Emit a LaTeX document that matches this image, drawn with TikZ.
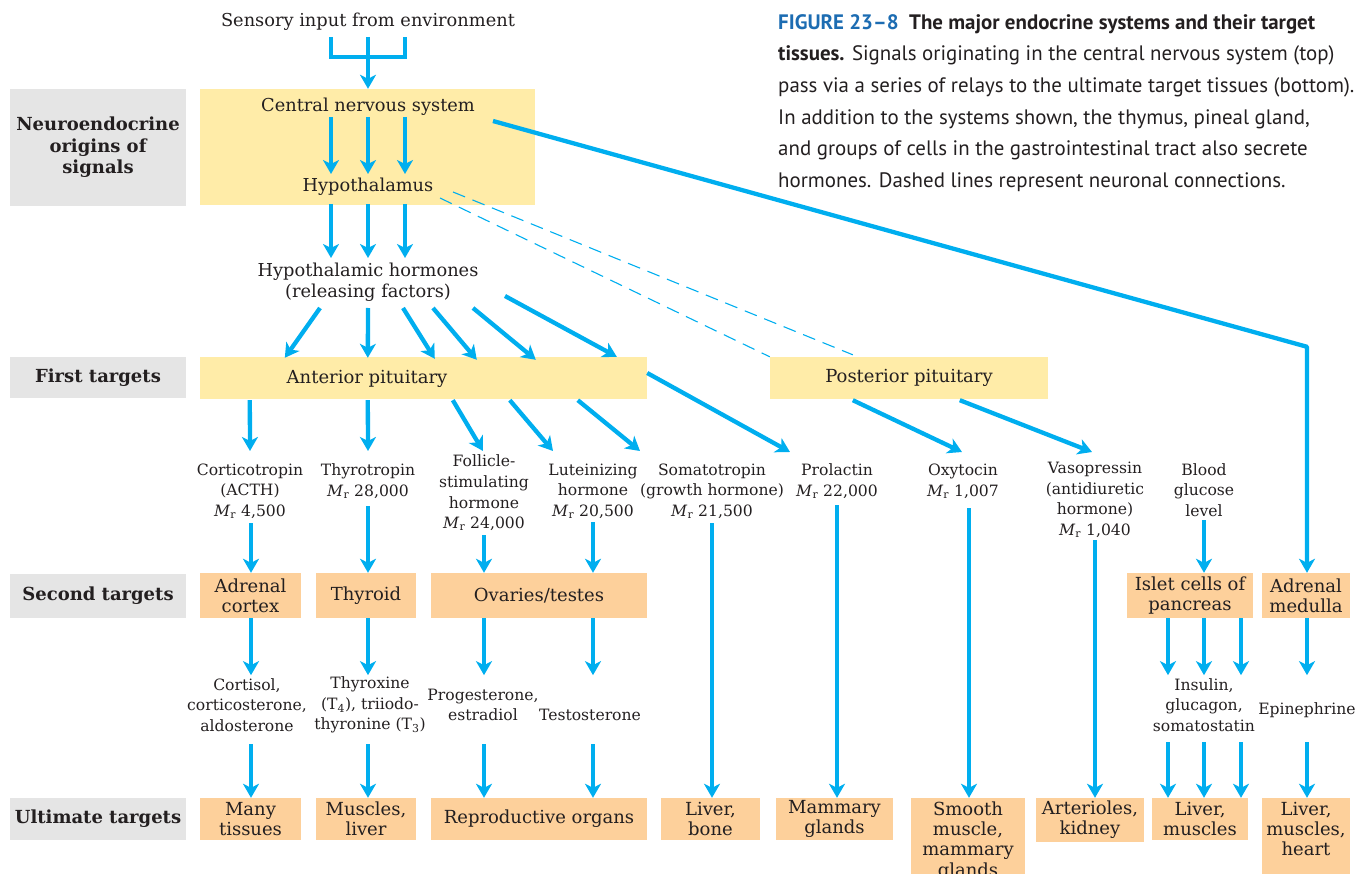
\documentclass[tikz,border=0pt]{standalone}
\usepackage{fontspec}
\setmainfont{DejaVu Serif}
\newfontfamily\capfont{PT Sans}
\usetikzlibrary{arrows.meta,calc}
\definecolor{cy}{RGB}{0,174,239}
\definecolor{yel}{RGB}{255,236,168}
\definecolor{org}{RGB}{253,208,155}
\definecolor{gry}{RGB}{229,229,229}
\definecolor{txt}{RGB}{35,31,32}
\definecolor{figblue}{RGB}{28,108,178}
\newcommand\myTop{\fontsize{17.8}{21.5}\selectfont}
\newcommand\myBox{\fontsize{18}{20.3}\selectfont}
\newcommand\myLab{\fontsize{15.6}{20.6}\selectfont}
\newcommand\myBold{\fontsize{18}{21.5}\selectfont\bfseries}
\newcommand\Mr{\textit{M}\textsubscript{r}}
\begin{document}
\begin{tikzpicture}[x=1pt,y=-1pt,
  arr/.style={draw=cy, line width=4.3pt, -{Stealth[length=14pt,width=16pt,inset=4pt]}},
  ln/.style={draw=cy, line width=4.5pt},
  dsh/.style={draw=cy, line width=1.1pt, dash pattern=on 13pt off 8pt},
  ybox/.style={fill=yel, inner sep=0pt, text=txt, font=\myBox},
  obox/.style={fill=org, inner sep=0pt, text=txt, align=center, font=\myBox},
  boxlab/.style={inner sep=0pt, text=txt, align=center, font=\myBox},
  gbox/.style={fill=gry, inner sep=0pt, text=txt, align=center, font=\myBold, minimum width=176pt},
  toplab/.style={inner sep=0pt, text=txt, align=center, font=\myTop},
  hormlab/.style={inner sep=0pt, text=txt, align=center, font=\myLab},
]
\useasboundingbox (0,0) rectangle (1363,874);

% ---------- row labels
\node[gbox, minimum height=117pt] (g1) at (98,147.5) {Neuroendocrine\\origins of\\signals};
\node[gbox, minimum height=41pt] (g2) at (98,377.5) {First targets};
\node[gbox, minimum height=44pt] (g3) at (98,596) {Second targets};
\node[gbox, minimum height=42pt] (g4) at (98,819) {Ultimate targets};

% ---------- top
\node[toplab] (sens) at (368,22) {Sensory input from environment};
\node[ybox, minimum width=335pt, minimum height=116pt] (cnsbox) at (367.5,147) {};
\node[toplab] (cns) at (368,107) {Central nervous system};
\node[toplab] (hyp) at (368,187) {Hypothalamus};
\node[toplab] (rf) at (368,282) {Hypothalamic hormones\\(releasing factors)};

% ---------- first targets
\node[ybox, minimum width=447pt, minimum height=42pt] (antbox) at (423.5,378) {};
\node[boxlab] (ant) at (367,379) {Anterior pituitary};
\node[ybox, minimum width=278pt, minimum height=42pt] (post) at (909,378) {Posterior pituitary};

% ---------- hormones
\node[hormlab] (cort) at (250,491) {Corticotropin\\(ACTH)\\\Mr{} 4,500};
\node[hormlab] (thyt) at (368,481) {Thyrotropin\\\Mr{} 28,000};
\node[hormlab] (fsh) at (484,493) {Follicle-\\stimulating\\hormone\\\Mr{} 24,000};
\node[hormlab] (lh) at (593,491) {Luteinizing\\hormone\\\Mr{} 20,500};
\node[hormlab] (soma) at (712,491) {Somatotropin\\(growth hormone)\\\Mr{} 21,500};
\node[hormlab] (prl) at (837,481) {Prolactin\\\Mr{} 22,000};
\node[hormlab] (oxy) at (963,481) {Oxytocin\\\Mr{} 1,007};
\node[hormlab] (vaso) at (1095,500) {Vasopressin\\(antidiuretic\\hormone)\\\Mr{} 1,040};
\node[hormlab] (bgl) at (1204,490) {Blood\\glucose\\level};

% ---------- second targets
\node[obox, minimum width=101pt, minimum height=45pt] (adrc) at (250.5,595.5) {Adrenal\\cortex};
\node[obox, minimum width=100pt, minimum height=45pt] (thyr) at (366,595.5) {Thyroid};
\node[obox, minimum width=216pt, minimum height=45pt] (ovt) at (539,595.5) {Ovaries/testes};
\node[obox, minimum width=126pt, minimum height=45pt] (islet) at (1190,595.5) {Islet cells of\\pancreas};
\node[obox, minimum width=88pt, minimum height=45pt] (adrm) at (1306,595.5) {Adrenal\\medulla};

% ---------- secreted hormones
\node[hormlab] (cortisol) at (247,705) {Cortisol,\\corticosterone,\\aldosterone};
\node[hormlab] (thyrox) at (370,705) {Thyroxine\\(T\textsubscript{4}), triiodo-\\thyronine (T\textsubscript{3})};
\node[hormlab] (prog) at (483,705) {Progesterone,\\estradiol};
\node[hormlab] (testo) at (590,715) {Testosterone};
\node[hormlab] (insulin) at (1204,705) {Insulin,\\glucagon,\\somatostatin};
\node[hormlab] (epi) at (1307,710) {Epinephrine};

% ---------- ultimate targets
\node[obox, minimum width=101pt, minimum height=42pt] (many) at (250.5,819) {Many\\tissues};
\node[obox, minimum width=100pt, minimum height=42pt] (musc) at (366,819) {Muscles,\\liver};
\node[obox, minimum width=216pt, minimum height=42pt] (repr) at (539,819) {Reproductive organs};
\node[obox, minimum width=99pt, minimum height=42pt] (livb) at (710.5,819) {Liver,\\bone};
\node[obox, minimum width=117pt, minimum height=42pt] (mamm) at (834.5,819) {Mammary\\glands};
\node[obox, minimum width=114pt, minimum height=86pt] (smooth) at (968,841) {Smooth\\muscle,\\mammary\\glands};
\node[obox, minimum width=108pt, minimum height=44pt] (arter) at (1090,820) {Arterioles,\\kidney};
\node[obox, minimum width=96pt, minimum height=42pt] (livm) at (1200,819) {Liver,\\muscles};
\node[obox, minimum width=88pt, minimum height=80pt] (livmh) at (1306,838) {};
\node[boxlab] (livmht) at (1306,829) {Liver,\\muscles,\\heart};

% ---------- caption
\node[anchor=north west, inner sep=0pt, align=left, text=txt,
      font=\capfont\fontsize{20.9}{31.7}\selectfont] (cap) at (778,14)
 {{\bfseries\color{figblue}FIGURE 23–8}\enspace{\bfseries The major endocrine systems and their target}\\
  {\bfseries tissues.} Signals originating in the central nervous system (top)\\
  pass via a series of relays to the ultimate target tissues (bottom).\\
  In addition to the systems shown, the thymus, pineal gland,\\
  and groups of cells in the gastrointestinal tract also secrete\\
  hormones. Dashed lines represent neuronal connections.};

% ---------- connectors: top
\draw[ln, line join=miter] ($(sens)+(-37,15)$) -- ($(sens)+(-37,35)$) -- ($(sens)+(37,35)$) -- ($(sens)+(37,15)$);
\draw[arr] ($(sens)+(0,15)$) -- (sens.south |- cnsbox.north);
\foreach \dx in {-37,0,37}{
  \draw[arr] ($(cns)+(\dx,10)$) -- ($(hyp)+(\dx,-13)$);
  \draw[arr] ($(hyp)+(\dx,17)$) -- ($(rf)+(\dx,-24)$);
}
% releasing factors -> anterior pituitary
\draw[arr] ($(rf)+(-48,26)$) -- ($(antbox.north west)+(85,1)$);
\draw[arr] ($(rf)+(0,26)$) -- ($(antbox.north west)+(168,1)$);
\draw[arr] ($(rf)+(35,26)$) -- ($(antbox.north west)+(235,2)$);
\draw[arr] ($(rf)+(65,26)$) -- ($(antbox.north west)+(277,3)$);
\draw[arr] ($(rf)+(105,26)$) -- ($(antbox.north west)+(336,3)$);
\draw[arr] ($(rf)+(137,14)$) -- ($(antbox.north west)+(417,0)$);
% neuronal connections
\draw[dsh] ($(hyp)+(72,11)$) -- (post.north west);
\draw[dsh] ($(hyp)+(85,5)$) -- ($(post.north west)+(83,-2)$);
% CNS -> adrenal medulla
\coordinate (corner) at ($(adrm.north)+(1,-226)$);
\draw[arr, line join=round] ($(cns)+(125,14)$) -- (corner) -- (corner |- adrm.north);

% pituitary -> hormones
\draw[arr] ($(antbox.south west)+(50,1)$) -- ($(cort)+(0,-40)$);
\draw[arr] ($(antbox.south west)+(168,1)$) -- ($(thyt)+(0,-30)$);
\draw[arr] ($(antbox.south west)+(253,1)$) -- ($(fsh)+(-1,-42)$);
\draw[arr] ($(antbox.south west)+(310,1)$) -- ($(lh)+(-40,-40)$);
\draw[arr] ($(antbox.south west)+(378,1)$) -- ($(soma)+(-72,-40)$);
\draw[arr] ($(antbox.east)+(0,-5)$) -- ($(prl)+(-47,-29)$);
\draw[arr] ($(post.south west)+(83,1)$) -- ($(oxy)+(-1,-29)$);
\draw[arr] ($(post.south west)+(190,1)$) -- ($(vaso)+(-3,-48)$);

% hormones -> second / ultimate targets
\coordinate (h1) at ($(cort)+(1,32)$);    \draw[arr] (h1) -- (h1 |- adrc.north);
\coordinate (h2) at ($(thyt)+(0,25)$);    \draw[arr] (h2) -- (h2 |- thyr.north);
\coordinate (h3) at ($(fsh)+(0,42)$);     \draw[arr] (h3) -- (h3 |- ovt.north);
\coordinate (h4) at ($(lh)+(0,31)$);      \draw[arr] (h4) -- (h4 |- ovt.north);
\coordinate (h5) at ($(soma)+(0,32)$);    \draw[arr] (h5) -- (h5 |- livb.north);
\coordinate (h6) at ($(prl)+(0,24)$);     \draw[arr] (h6) -- (h6 |- mamm.north);
\coordinate (h7) at ($(oxy)+(6,27)$);     \draw[arr] (h7) -- (h7 |- smooth.north);
\coordinate (h8) at ($(vaso)+(0,40)$);    \draw[arr] (h8) -- (h8 |- arter.north);
\coordinate (h9) at ($(bgl)+(0,30)$);     \draw[arr] (h9) -- (h9 |- islet.north);

% second targets -> secreted hormones
\coordinate (s1) at ($(adrc.south)+(0.5,0)$);
\coordinate (s2) at ($(thyr.south)+(2,0)$);
\coordinate (s3) at ($(ovt.south)+(-55,0)$);
\coordinate (s4) at ($(ovt.south)+(54,0)$);
\coordinate (s5) at ($(islet.south)+(-22,0)$);
\coordinate (s6) at ($(islet.south)+(14,0)$);
\coordinate (s7) at ($(islet.south)+(51,0)$);
\coordinate (s8) at ($(adrm.south)+(1,0)$);
\foreach \s in {s1,s2,s3,s4}{\draw[arr, shorten >=3pt] (\s) -- (\s |- cortisol.north);}
\foreach \s in {s5,s6,s7,s8}{\draw[arr, shorten >=3pt] (\s) -- (\s |- insulin.north);}

% secreted hormones -> ultimate targets
\coordinate (u1) at ($(cortisol)+(4,39)$);   \draw[arr] (u1) -- (u1 |- many.north);
\coordinate (u2) at ($(thyrox)+(-2,39)$);    \draw[arr] (u2) -- (u2 |- musc.north);
\coordinate (u3) at ($(prog)+(1,39)$);       \draw[arr] (u3) -- (u3 |- repr.north);
\coordinate (u4) at ($(testo)+(3,29)$);      \draw[arr] (u4) -- (u4 |- repr.north);
\coordinate (u5) at ($(insulin)+(-36,37)$);  \draw[arr] (u5) -- (u5 |- livm.north);
\coordinate (u6) at ($(insulin)+(0,37)$);    \draw[arr] (u6) -- (u6 |- livm.north);
\coordinate (u7) at ($(insulin)+(37,37)$);   \draw[arr] (u7) -- (u7 |- livm.north);
\coordinate (u8) at ($(epi)+(0,32)$);        \draw[arr] (u8) -- (u8 |- livmh.north);
\end{tikzpicture}
\end{document}
